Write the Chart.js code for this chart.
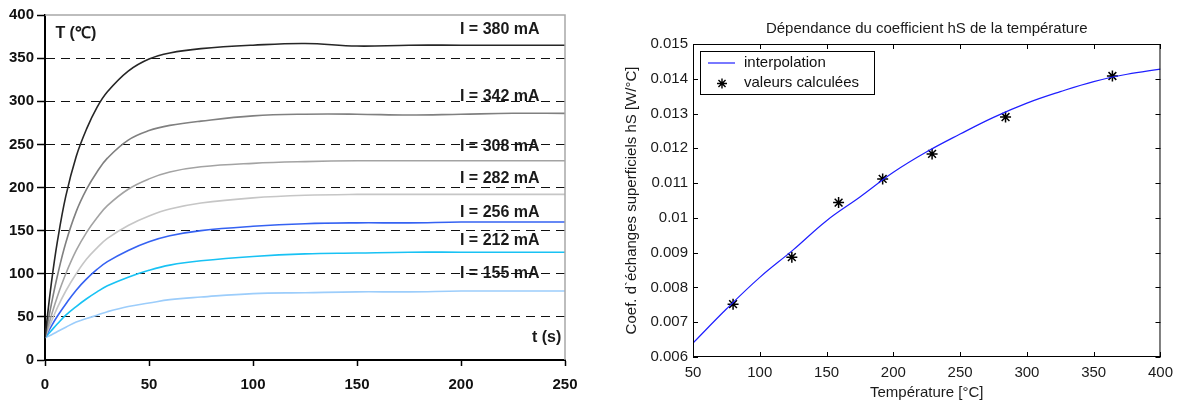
<!DOCTYPE html>
<html><head><meta charset="utf-8">
<script src="https://cdn.jsdelivr.net/npm/chart.js@4.4.1/dist/chart.umd.min.js"></script>
<style>
html,body{margin:0;padding:0;background:#fff;width:1180px;height:403px;overflow:hidden}
#c1{position:absolute;left:0;top:0}
#c2{position:absolute;left:590px;top:0}
</style></head><body>
<canvas id="c1" width="590" height="403"></canvas>
<canvas id="c2" width="590" height="403"></canvas>
<script>
// ---------- left chart data: temperature vs time ----------
const timeS = [0,3,6,10,15,20,25,30,40,50,60,75,100,125,150,175,200,225,250];
const T380 = [26,88,138,190,236,268,293,311,335,349,356,361,365,367,364,365,365,365,365];
const T342 = [26,64,98,136,172,198,218,234,255,266,272,277,283,285,285,284,285,286,286];
const T308 = [26,51,74,100,127,148,165,179,198,210,218,224,228,230,231,231,231,231,231];
const T282 = [26,44,61,80,100,117,130,141,156,167,175,182,188,191,192,192,192,192,192];
const T256 = [26,39,51,65,81,94,105,114,127,137,144,150,155,158,159,159,160,160,160];
const T212 = [26,34,42,52,62,71,79,86,96,104,110,115,120,123,124,125,125,125,125];
const T155 = [26,29,33,38,44,48,52,56,62,66,70,73,77,78,79,79,80,80,80];
const currentLabels = ['I = 380 mA','I = 342 mA','I = 308 mA','I = 282 mA','I = 256 mA','I = 212 mA','I = 155 mA'];
const leftYTicks = [0,50,100,150,200,250,300,350,400];
const leftXTicks = [0,50,100,150,200,250];

// ---------- right chart data: hS vs temperature ----------
const calcTemp = [80,124,159,192,229,284,364];
const calcHS = [0.00752,0.00887,0.01044,0.01112,0.01184,0.0129,0.01408];
const interpTemp = [50,75,100,125,150,175,200,225,250,275,300,325,350,375,400];
const interpHS = [0.0064,0.00738,0.00829,0.00908,0.00992,0.0106,0.01131,0.0119,0.01241,0.01289,0.0133,0.01363,0.01392,0.01413,0.01428];
const rightYTicks = [0.006,0.007,0.008,0.009,0.010,0.011,0.012,0.013,0.014,0.015];
const rightYTickLabels = ['0.006','0.007','0.008','0.009','0.01','0.011','0.012','0.013','0.014','0.015'];
const rightXTicks = [50,100,150,200,250,300,350,400];

// ---------- left chart ----------
const seriesT = [T380,T342,T308,T282,T256,T212,T155];
const seriesColors = ['#262626','#808080','#a3a3a3','#c6c6c6','#3562f2','#18c2f4','#9ccdfb'];
const noteSpots = [[199.5,382.6],[199.5,305.3],[199.5,247.3],[199.5,210.7],[199.5,171.2],[199.5,138.3],[199.5,99.7]];
const boldFont = {family:'Liberation Sans, Arial, sans-serif', size:15, weight:'bold'};

const leftNotes = {
  id:'leftNotes',
  beforeDraw(chart){
    const {ctx, scales:{x,y}} = chart;
    ctx.save();
    ctx.fillStyle = '#1a1a1a';
    ctx.font = 'bold 16px "Liberation Sans", Arial, sans-serif';
    ctx.textBaseline = 'middle';
    ctx.textAlign = 'left';
    currentLabels.forEach((t,i)=>{
      ctx.fillText(t, x.getPixelForValue(noteSpots[i][0]), y.getPixelForValue(noteSpots[i][1]));
    });
    ctx.fillText('T (\u2103)', x.getPixelForValue(5), y.getPixelForValue(378.5));
    ctx.textAlign = 'right';
    ctx.fillText('t (s)', x.getPixelForValue(248.2), y.getPixelForValue(26));
    ctx.restore();
  },
  afterDraw(chart){
    const {ctx, chartArea:a} = chart;
    ctx.save();
    ctx.strokeStyle = '#a8a8a8';
    ctx.lineWidth = 1.5;
    ctx.beginPath();
    ctx.moveTo(a.left, a.top);
    ctx.lineTo(a.right, a.top);
    ctx.lineTo(a.right, a.bottom);
    ctx.stroke();
    ctx.restore();
  }
};

new Chart(document.getElementById('c1'), {
  type:'line',
  data:{
    datasets: seriesT.map((arr,i)=>({
      label: currentLabels[i],
      data: timeS.map((t,k)=>({x:t, y:arr[k]})),
      borderColor: seriesColors[i],
      borderWidth: 1.6,
      pointRadius: 0,
      tension: 0.4,
      fill:false
    }))
  },
  options:{
    responsive:false, animation:false, devicePixelRatio:1,
    layout:{padding:{left:0,right:25,top:15,bottom:0}},
    plugins:{legend:{display:false}, tooltip:{enabled:false}, title:{display:false}},
    scales:{
      x:{
        type:'linear', min:0, max:250,
        afterBuildTicks: s=>{ s.ticks = leftXTicks.map(v=>({value:v})); },
        afterFit: s=>{ s.height = 43; },
        grid:{drawOnChartArea:false, drawTicks:true, tickLength:6, tickColor:'#000', tickWidth:1.5},
        border:{color:'#000', width:2},
        ticks:{color:'#111', font:boldFont, padding:10, maxRotation:0, autoSkip:false}
      },
      y:{
        type:'linear', min:0, max:400,
        afterBuildTicks: s=>{ s.ticks = leftYTicks.map(v=>({value:v})); },
        afterFit: s=>{ s.width = 45; },
        grid:{
          color: c => (c.tick && c.tick.value>0 && c.tick.value<400) ? '#111' : 'rgba(0,0,0,0)',
          lineWidth:1, tickLength:8, tickColor:'#000', tickWidth:1.5
        },
        border:{color:'#000', width:2, dash:[9,6]},
        ticks:{color:'#111', font:boldFont, padding:3, autoSkip:false}
      }
    }
  },
  plugins:[leftNotes]
});

// ---------- right chart ----------
const uiFont = 'Liberation Sans, Arial, sans-serif';
const rightFrame = {
  id:'rightFrame',
  afterDraw(chart){
    const {ctx, chartArea:a, scales:{x,y}} = chart;
    ctx.save();
    ctx.strokeStyle = '#000';
    ctx.lineWidth = 1;
    ctx.strokeRect(a.left+0.5, a.top+0.5, a.right-a.left-1, a.bottom-a.top-1);
    ctx.beginPath();
    x.ticks.forEach(t=>{
      const px = Math.round(x.getPixelForValue(t.value))+0.5;
      ctx.moveTo(px, a.bottom); ctx.lineTo(px, a.bottom-5);
      ctx.moveTo(px, a.top); ctx.lineTo(px, a.top+5);
    });
    y.ticks.forEach(t=>{
      const py = Math.round(y.getPixelForValue(t.value))+0.5;
      ctx.moveTo(a.left, py); ctx.lineTo(a.left+5, py);
      ctx.moveTo(a.right, py); ctx.lineTo(a.right-5, py);
    });
    ctx.stroke();
    // legend box
    const lx = a.left+7, ly = a.top+7, lw = 174, lh = 43;
    ctx.fillStyle = '#fff';
    ctx.fillRect(lx, ly, lw, lh);
    ctx.strokeRect(lx+0.5, ly+0.5, lw, lh);
    const ds = chart.data.datasets;
    ctx.strokeStyle = ds[0].borderColor;
    ctx.lineWidth = 1.2;
    ctx.beginPath(); ctx.moveTo(lx+8, ly+12); ctx.lineTo(lx+35, ly+12); ctx.stroke();
    ctx.strokeStyle = '#000';
    ctx.fillStyle = '#000';
    ctx.lineWidth = 1.4;
    Chart.helpers.drawPoint(ctx, {pointStyle:'star', radius:5, borderWidth:1.4, rotation:0}, lx+22, ly+32.5);
    ctx.fillStyle = '#111';
    ctx.font = '15px ' + uiFont;
    ctx.textBaseline = 'middle';
    ctx.textAlign = 'left';
    ctx.fillText(ds[0].label, lx+44, ly+11.5);
    ctx.fillText(ds[1].label, lx+44, ly+31.5);
    ctx.restore();
  }
};

new Chart(document.getElementById('c2'), {
  type:'scatter',
  data:{
    datasets:[
      {
        label:'interpolation',
        type:'line',
        data: interpTemp.map((t,k)=>({x:t, y:interpHS[k]})),
        borderColor:'#1f1fff',
        borderWidth:1.2,
        pointRadius:0,
        tension:0.4,
        fill:false
      },
      {
        label:'valeurs calculées',
        data: calcTemp.map((t,k)=>({x:t, y:calcHS[k]})),
        showLine:false,
        pointStyle:'star',
        pointRadius:5.5,
        pointBorderWidth:1.5,
        borderColor:'#000',
        backgroundColor:'#000'
      }
    ]
  },
  options:{
    responsive:false, animation:false, devicePixelRatio:1,
    layout:{padding:{left:0,right:17,top:0,bottom:0}},
    plugins:{legend:{display:false}, tooltip:{enabled:false}, title:{display:false}},
    scales:{
      x:{
        type:'linear', min:50, max:400, position:'bottom',
        afterBuildTicks: s=>{ s.ticks = rightXTicks.map(v=>({value:v})); },
        afterFit: s=>{ s.height = 46; },
        grid:{display:false, drawTicks:false},
        border:{display:false},
        ticks:{color:'#1a1a1a', font:{family:uiFont, size:15}, padding:7, maxRotation:0, autoSkip:false},
        title:{display:true, text:'Température [°C]', color:'#1a1a1a', font:{family:uiFont, size:15}, padding:{top:0,bottom:1}}
      },
      xTop:{
        type:'linear', min:50, max:400, position:'top',
        afterFit: s=>{ s.height = 44; },
        grid:{display:false, drawTicks:false},
        border:{display:false},
        ticks:{display:false},
        title:{display:true, text:'Dépendance du coefficient hS de la température', color:'#1a1a1a', font:{family:uiFont, size:15}, padding:{top:20,bottom:0}}
      },
      y:{
        type:'linear', min:0.006, max:0.015,
        afterBuildTicks: s=>{ s.ticks = rightYTicks.map(v=>({value:v})); },
        afterFit: s=>{ s.width = 103; },
        grid:{display:false, drawTicks:false},
        border:{display:false},
        ticks:{color:'#1a1a1a', font:{family:uiFont, size:15}, padding:5, autoSkip:false,
               callback:(v,i)=>rightYTickLabels[i]},
        title:{display:true, text:'Coef. d`échanges superficiels hS [W/°C]', color:'#1a1a1a', font:{family:uiFont, size:15}, padding:{top:33,bottom:0}}
      }
    }
  },
  plugins:[rightFrame]
});
</script>
</body></html>
